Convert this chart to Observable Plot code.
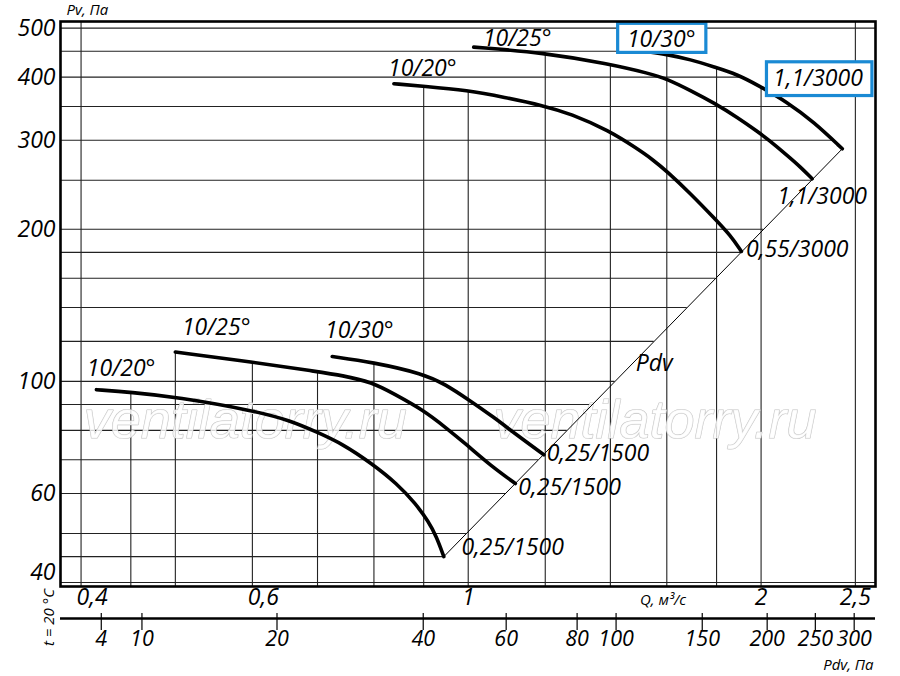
<!DOCTYPE html>
<html>
<head>
<meta charset="utf-8">
<script src="https://cdn.jsdelivr.net/npm/d3@7"></script>
<script src="https://cdn.jsdelivr.net/npm/@observablehq/plot@0.6"></script>
<style>
  html, body { margin: 0; padding: 0; background: #fff; }
  #chart { width: 900px; height: 676px; }
</style>
</head>
<body>
<div id="chart"></div>
<script>
// ---- axes / grid values ----
const qGrid = [0.4, 0.45, 0.5, 0.6, 0.7, 0.8, 0.9, 1, 1.2, 1.4, 1.6, 1.8, 2, 2.5];
const pvGrid = [40, 45, 50, 60, 70, 80, 90, 100, 120, 140, 160, 180, 200, 250, 300, 350, 400, 450, 500];
const qTicks = [0.4, 0.6, 1, 2, 2.5];
const pvTicks = [40, 60, 100, 200, 300, 400, 500];
const pdvTickLabels = [4, 10, 20, 40, 60, 80, 100, 150, 200, 250, 300];
const pdvTickQ = [0.4196, 0.462, 0.636, 0.899, 1.094, 1.294, 1.419, 1.740, 2.029, 2.274, 2.493];
const xDomain = [0.381, 2.622];
const yDomain = [39.28, 515.4];

// ---- fan curves [Q m3/s, Pv Pa] ----
const low20 = [[0.4148,96.3],[0.4499,95.2],[0.5022,93.1],[0.6009,87.6],[0.6560,83.7],[0.6995,79.3],[0.7419,75.3],[0.7966,68.7],[0.8452,62.7],[0.8826,57.35],[0.9103,52.8],[0.9277,49.3],[0.9439,45.0]];
const low25 = [[0.5,114.3],[0.6009,109.2],[0.6977,104.6],[0.7419,102.8],[0.7966,99.6],[0.8387,94.5],[0.9003,87.6],[0.9477,81.1],[0.9983,74.7],[1.054,68.2],[1.118,62.8]];
const low30 = [[0.7248,112.0],[0.7966,109.2],[0.9003,103.5],[0.9477,98.6],[0.9976,92.4],[1.062,85.0],[1.123,78.2],[1.196,71.6]];
const top20 = [[0.8387,388.2],[0.8990,383.9],[0.9991,376.5],[1.088,365.1],[1.196,351.1],[1.274,338.6],[1.394,313.8],[1.493,288.4],[1.547,274.9],[1.601,260.3],[1.692,235.4],[1.791,210.2],[1.860,194.5],[1.909,180.8]];
const top25 = [[1.013,458.6],[1.196,447.1],[1.392,425.2],[1.539,406.3],[1.599,397.1],[1.692,376.5],[1.791,355.3],[1.891,333.0],[1.987,311.4],[2.029,302.1],[2.128,280.0],[2.196,265.5],[2.257,251.8]];
const top30 = [[1.457,455.2],[1.539,448.4],[1.599,443.6],[1.692,433.6],[1.791,418.7],[1.890,405.1],[1.987,385.2],[2.128,356.9],[2.266,326.0],[2.424,288.6]];
const pdvLine = [[0.9439,45.0],[2.424,288.6]];

// ---- labels ----
const centerLabels = [
  {q:0.4398, pv:106.1, t:"10/20°"},
  {q:0.5508, pv:127.7, t:"10/25°"},
  {q:0.7727, pv:126.0, t:"10/30°"},
  {q:0.897,  pv:416.7, t:"10/20°"},
  {q:1.123,  pv:475.7, t:"10/25°"},
  {q:1.579,  pv:473.6, t:"10/30°"},
  {q:2.288,  pv:396.5, t:"1,1/3000"},
  {q:1.553,  pv:108.5, t:"Pdv"}
];
const startLabels = [
  {q:0.984, pv:46.9, t:"0,25/1500"},
  {q:1.126, pv:61.6, t:"0,25/1500"},
  {q:1.204, pv:71.8, t:"0,25/1500"},
  {q:2.078, pv:232.3, t:"1,1/3000"},
  {q:1.930, pv:181.9, t:"0,55/3000"}
];
const boxes = [
  {q1:1.426, q2:1.757, p1:446.7, p2:510},
  {q1:2.028, q2:2.603, p1:367, p2:428}
];
const watermark = [
  {q:0.590, pv:83.7, t:"ventilatorry.ru"},
  {q:1.556, pv:83.7, t:"ventilatorry.ru"}
];

const curves = [
  ["low20", low20], ["low25", low25], ["low30", low30],
  ["top20", top20], ["top25", top25], ["top30", top30]
];
const curveRows = curves.flatMap(([name, pts]) => pts.map(([q, pv]) => ({curve: name, q, pv})));
const pdvRows = pdvLine.map(([q, pv]) => ({q, pv}));

// ---- grid extents derived from curves ----
const L = Math.log;
function pvAt(c, q) {
  if (q < c[0][0] - 1e-9 || q > c[c.length - 1][0] + 1e-9) return null;
  for (let i = 0; i < c.length - 1; i++) {
    const [q0, p0] = c[i], [q1, p1] = c[i + 1];
    if (q >= q0 - 1e-9 && q <= q1 + 1e-9) {
      const t = (L(q) - L(q0)) / (L(q1) - L(q0));
      return Math.exp(L(p0) + t * (L(p1) - L(p0)));
    }
  }
  return null;
}
function qAt(c, v) {
  for (let i = 0; i < c.length - 1; i++) {
    const [q0, p0] = c[i], [q1, p1] = c[i + 1];
    const lo = Math.min(p0, p1) * 0.995, hi = Math.max(p0, p1) * 1.001;
    if (v >= lo && v <= hi) {
      let t = (L(v) - L(p0)) / (L(p1) - L(p0));
      t = Math.max(0, Math.min(1, t));
      return Math.exp(L(q0) + t * (L(q1) - L(q0)));
    }
  }
  return null;
}
const vGrid = qGrid.map(q => {
  const tops = curves.map(([, c]) => pvAt(c, q)).filter(d => d != null);
  return {q, y1: yDomain[0], y2: tops.length ? Math.max(...tops) : yDomain[1]};
});
const hGrid = pvGrid.map(v => {
  const ends = [...curves.map(([, c]) => c), pdvLine].map(c => qAt(c, v)).filter(d => d != null);
  return {v, x1: xDomain[0], x2: ends.length ? Math.max(...ends) : xDomain[1]};
});

const comma = d => String(d).replace(".", ",");
const pdvLabelOf = new Map(pdvTickQ.map((q, i) => [q, String(pdvTickLabels[i])]));
const FONT = "'Open Sans', 'DejaVu Sans', sans-serif";
const FS = 23;

const chart = Plot.plot({
  width: 900,
  height: 676,
  marginLeft: 60,
  marginRight: 25,
  marginTop: 21,
  marginBottom: 90,
  style: {fontFamily: FONT, fontStyle: "italic", background: "#fff", color: "#000"},
  x: {type: "log", domain: xDomain, axis: null},
  y: {type: "log", domain: yDomain, axis: null},
  marks: [
    Plot.ruleX(vGrid, {x: "q", y1: "y1", y2: "y2", stroke: "#222", strokeWidth: 1.1}),
    Plot.ruleY(hGrid, {y: "v", x1: "x1", x2: "x2", stroke: "#222", strokeWidth: 1.1}),
    Plot.text(watermark, {x: "q", y: "pv", text: "t", fontSize: 54, fontStyle: "italic",
      fontFamily: "'Liberation Sans', sans-serif",
      fill: "white", fillOpacity: 0.8, stroke: "#c4c4c4", strokeWidth: 1.1}),
    Plot.line(pdvRows, {x: "q", y: "pv", stroke: "#000", strokeWidth: 1}),
    Plot.line(curveRows, {x: "q", y: "pv", z: "curve", stroke: "#000", strokeWidth: 3.6, curve: "basis"}),
    Plot.rect(boxes, {x1: "q1", x2: "q2", y1: "p1", y2: "p2", fill: "white", stroke: "#1a8ad4", strokeWidth: 3.2}),
    Plot.text(centerLabels, {x: "q", y: "pv", text: "t", fontSize: FS, textAnchor: "middle", lineAnchor: "middle"}),
    Plot.text(startLabels, {x: "q", y: "pv", text: "t", fontSize: FS, textAnchor: "start", lineAnchor: "middle"}),
    Plot.frame({stroke: "#000", strokeWidth: 2.6}),
    // Y axis
    Plot.axisY(pvTicks.filter(d => d !== 40), {tickSize: 0, tickPadding: 5, fontSize: FS, label: null}),
    Plot.axisY([40], {tickSize: 0, tickPadding: 5, fontSize: FS, label: null, dy: -10}),
    // Q axis
    Plot.axisX(qTicks.filter(d => d < 1), {anchor: "bottom", tickSize: 0, tickPadding: 2, fontSize: FS, label: null, tickFormat: comma, dx: 11}),
    Plot.axisX(qTicks.filter(d => d >= 1), {anchor: "bottom", tickSize: 0, tickPadding: 2, fontSize: FS, label: null, tickFormat: comma}),
    // Pdv axis
    Plot.ruleY([yDomain[0]], {dy: 32, stroke: "#000", strokeWidth: 2.6}),
    Plot.axisX(pdvTickQ, {anchor: "bottom", tickSize: 17, dy: 27, tickPadding: 0, fontSize: 21.5, label: null,
      tickFormat: d => pdvLabelOf.get(d), strokeWidth: 1.2}),
    // axis titles
    Plot.text(["Pv, Па"], {frameAnchor: "top-left", dx: 6, dy: -11, textAnchor: "start", lineAnchor: "middle", fontSize: 15}),
    Plot.text(["Q, м³/с"], {frameAnchor: "bottom", dx: 195, dy: 14, textAnchor: "middle", lineAnchor: "middle", fontSize: 15}),
    Plot.text(["Pdv, Па"], {frameAnchor: "bottom-right", dx: -2, dy: 79, textAnchor: "end", lineAnchor: "middle", fontSize: 15}),
    Plot.text(["t = 20 °C"], {frameAnchor: "bottom-left", dx: -11, dy: 31, rotate: -90, textAnchor: "middle", lineAnchor: "middle", fontSize: 15})
  ]
});
document.getElementById("chart").appendChild(chart);
</script>
</body>
</html>
